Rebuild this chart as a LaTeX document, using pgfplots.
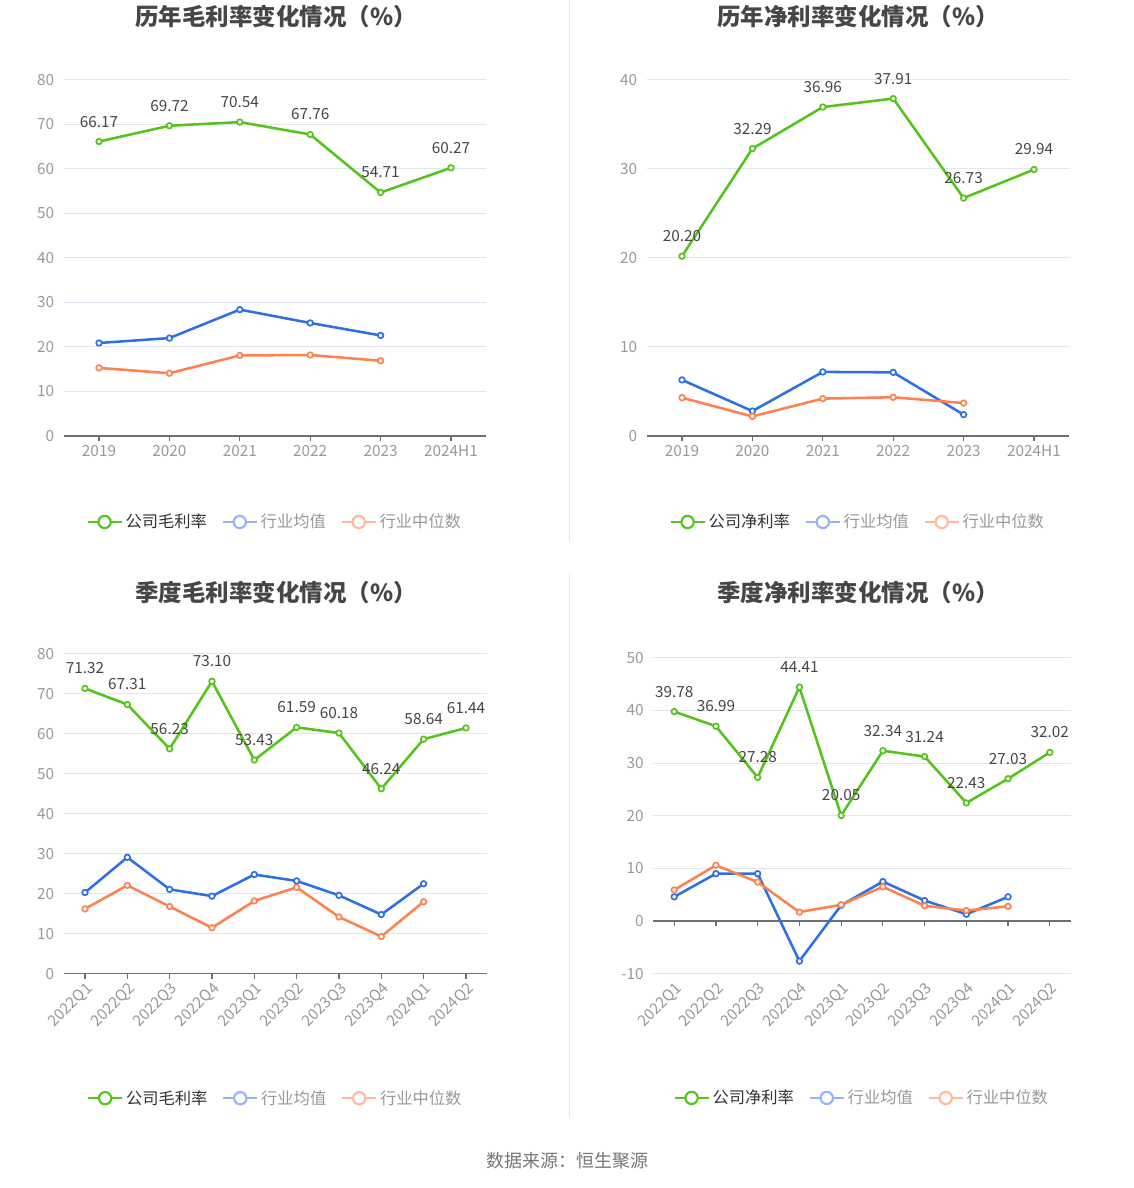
\documentclass[border=0pt]{standalone}
\usepackage{pgfplots}
\pgfplotsset{compat=1.18}
\usepackage{fontspec}
\setmainfont{Noto Sans CJK SC}
\definecolor{cgreen}{HTML}{52C41A}
\definecolor{cblue}{HTML}{2E6FE6}
\definecolor{corange}{HTML}{FF8150}
\definecolor{cbluel}{HTML}{94B4F5}
\definecolor{corangel}{HTML}{FFB89E}
\definecolor{gridcol}{HTML}{E0E6F1}
\definecolor{axisgray}{HTML}{6E7079}
\definecolor{tickgray}{HTML}{999999}
\definecolor{labcol}{HTML}{464646}
\definecolor{titlecol}{HTML}{464646}
\definecolor{legtext}{HTML}{333333}
\definecolor{leggray}{HTML}{999999}
\definecolor{footcol}{HTML}{777777}
\definecolor{sepcol}{HTML}{E8E8E8}
\pgfplotsset{
  base/.style={
    scale only axis, clip=false,
    axis x line*=bottom, axis y line*=left,
    y axis line style={draw=none},
    x axis line style={draw=axisgray, line width=0.9pt, -},
    ytick style={draw=none},
    xtick style={draw=axisgray, line width=0.9pt},
    major tick length=3.75pt, tick align=outside,
    ymajorgrids, grid style={draw=gridcol, line width=0.75pt},
    tick label style={font=\fontsize{11.5}{13}\selectfont, text=tickgray},
    /pgf/number format/assume math mode=true,
    legend style={draw=none, fill=none, font=\fontsize{12.2}{14}\selectfont,
      legend columns=3, anchor=center,
      /tikz/every even column/.append style={column sep=9pt}},
    legend cell align=left,
    legend image code/.code={
      \draw[##1, mark=none] (0pt,0pt) -- (25.5pt,0pt);
      \draw[##1, mark size=4.6pt, mark options={fill=white, line width=1.6pt, solid}] plot coordinates {(12.75pt,0pt)};
    },
  },
  ser/.style={line width=1.9pt, mark=*, mark size=2.1pt, mark options={fill=white, line width=1.25pt, solid}},
  lbl/.style={nodes near coords={\pgfmathprintnumber[fixed, precision=2, fixed zerofill]{\pgfplotspointmeta}},
    point meta=y,
    every node near coord/.append style={font=\fontsize{11.5}{13}\selectfont, text=labcol, anchor=center, yshift=15pt}},
}
\begin{document}
\begin{tikzpicture}
\useasboundingbox (0,0) rectangle (850.5pt,891pt);
\fill[white] (0,0) rectangle (850.5pt,891pt);
\draw[sepcol, line width=0.75pt] (427.1pt,891pt) -- (427.1pt,484.5pt);
\draw[sepcol, line width=0.75pt] (427.1pt,460.5pt) -- (427.1pt,52.5pt);

\node[font=\bfseries\fontsize{17.6}{20}\selectfont, text=titlecol] at (207pt,878.25pt) {历年毛利率变化情况（\%）};
\node[font=\bfseries\fontsize{17.6}{20}\selectfont, text=titlecol] at (643.5pt,878.25pt) {历年净利率变化情况（\%）};
\node[font=\bfseries\fontsize{17.6}{20}\selectfont, text=titlecol] at (207pt,446.25pt) {季度毛利率变化情况（\%）};
\node[font=\bfseries\fontsize{17.6}{20}\selectfont, text=titlecol] at (643.5pt,446.25pt) {季度净利率变化情况（\%）};
\node[font=\fontsize{13.5}{16}\selectfont, text=footcol] at (425.25pt,20.25pt) {数据来源：恒生聚源};

% Panel 1
\begin{axis}[base, at={(47.85pt,564pt)}, anchor=south west, width=316.8pt, height=267pt,
  xmin=-0.5, xmax=5.5, ymin=0, ymax=80, ytick={0,10,...,80},
  xtick={0,...,5}, xticklabels={2019,2020,2021,2022,2023,2024H1},
  legend style={at={(0.5,-0.2416)}}]
\addlegendimage{ser, cgreen}\addlegendentry{\textcolor{legtext}{公司毛利率}}
\addlegendimage{ser, cbluel}\addlegendentry{\textcolor{leggray}{行业均值}}
\addlegendimage{ser, corangel}\addlegendentry{\textcolor{leggray}{行业中位数}}
\addplot[ser, cgreen, lbl, forget plot] coordinates {(0,66.17) (1,69.72) (2,70.54) (3,67.76) (4,54.71) (5,60.27)};
\addplot[ser, cblue, forget plot] coordinates {(0,20.9) (1,22.0) (2,28.4) (3,25.4) (4,22.6)};
\addplot[ser, corange, forget plot] coordinates {(0,15.3) (1,14.1) (2,18.1) (3,18.2) (4,16.9)};
\end{axis}

% Panel 2
\begin{axis}[base, at={(485.1pt,564pt)}, anchor=south west, width=316.8pt, height=267pt,
  xmin=-0.5, xmax=5.5, ymin=0, ymax=40, ytick={0,10,...,40},
  xtick={0,...,5}, xticklabels={2019,2020,2021,2022,2023,2024H1},
  legend style={at={(0.5,-0.2416)}}]
\addlegendimage{ser, cgreen}\addlegendentry{\textcolor{legtext}{公司净利率}}
\addlegendimage{ser, cbluel}\addlegendentry{\textcolor{leggray}{行业均值}}
\addlegendimage{ser, corangel}\addlegendentry{\textcolor{leggray}{行业中位数}}
\addplot[ser, cgreen, lbl, forget plot] coordinates {(0,20.20) (1,32.29) (2,36.96) (3,37.91) (4,26.73) (5,29.94)};
\addplot[ser, cblue, forget plot] coordinates {(0,6.3) (1,2.8) (2,7.2) (3,7.15) (4,2.4)};
\addplot[ser, corange, forget plot] coordinates {(0,4.3) (1,2.2) (2,4.2) (3,4.35) (4,3.7)};
\end{axis}

% Panel 3
\begin{axis}[base, at={(47.85pt,160.7pt)}, anchor=south west, width=317.5pt, height=240pt,
  xmin=-0.5, xmax=9.5, ymin=0, ymax=80, ytick={0,10,...,80},
  xtick={0,...,9}, xticklabels={2022Q1,2022Q2,2022Q3,2022Q4,2023Q1,2023Q2,2023Q3,2023Q4,2024Q1,2024Q2},
  xticklabel style={rotate=45, anchor=north east, inner sep=1pt},
  legend style={at={(0.5,-0.389)}}]
\addlegendimage{ser, cgreen}\addlegendentry{\textcolor{legtext}{公司毛利率}}
\addlegendimage{ser, cbluel}\addlegendentry{\textcolor{leggray}{行业均值}}
\addlegendimage{ser, corangel}\addlegendentry{\textcolor{leggray}{行业中位数}}
\addplot[ser, cgreen, lbl, forget plot] coordinates {(0,71.32) (1,67.31) (2,56.23) (3,73.10) (4,53.43) (5,61.59) (6,60.18) (7,46.24) (8,58.64) (9,61.44)};
\addplot[ser, cblue, forget plot] coordinates {(0,20.3) (1,29.1) (2,21.1) (3,19.4) (4,24.8) (5,23.2) (6,19.6) (7,14.8) (8,22.5)};
\addplot[ser, corange, forget plot] coordinates {(0,16.2) (1,22.1) (2,16.8) (3,11.5) (4,18.2) (5,21.6) (6,14.2) (7,9.3) (8,18.0)};
\end{axis}

% Panel 4
\begin{axis}[base, at={(490pt,160.7pt)}, anchor=south west, width=313pt, height=237pt,
  xmin=-0.5, xmax=9.5, ymin=-10, ymax=50, ytick={-10,0,...,50},
  x axis line style={draw=none}, xtick style={draw=none},
  xtick={0,...,9}, xticklabels={2022Q1,2022Q2,2022Q3,2022Q4,2023Q1,2023Q2,2023Q3,2023Q4,2024Q1,2024Q2},
  xticklabel style={rotate=45, anchor=north east, inner sep=1pt},
  legend style={at={(0.5,-0.393)}}]
\addlegendimage{ser, cgreen}\addlegendentry{\textcolor{legtext}{公司净利率}}
\addlegendimage{ser, cbluel}\addlegendentry{\textcolor{leggray}{行业均值}}
\addlegendimage{ser, corangel}\addlegendentry{\textcolor{leggray}{行业中位数}}
\draw[axisgray, line width=0.9pt] (axis cs:-0.5,0) -- (axis cs:9.5,0);
\pgfplotsinvokeforeach{0,...,9}{\draw[axisgray, line width=0.9pt] (axis cs:#1,0) -- ++(0pt,-3.75pt);}
\addplot[ser, cgreen, lbl, forget plot] coordinates {(0,39.78) (1,36.99) (2,27.28) (3,44.41) (4,20.05) (5,32.34) (6,31.24) (7,22.43) (8,27.03) (9,32.02)};
\addplot[ser, cblue, forget plot] coordinates {(0,4.6) (1,9.0) (2,9.0) (3,-7.6) (4,3.0) (5,7.5) (6,3.9) (7,1.3) (8,4.6)};
\addplot[ser, corange, forget plot] coordinates {(0,5.9) (1,10.6) (2,7.4) (3,1.7) (4,3.1) (5,6.5) (6,2.9) (7,2.0) (8,2.8)};
\end{axis}
\end{tikzpicture}
\end{document}
